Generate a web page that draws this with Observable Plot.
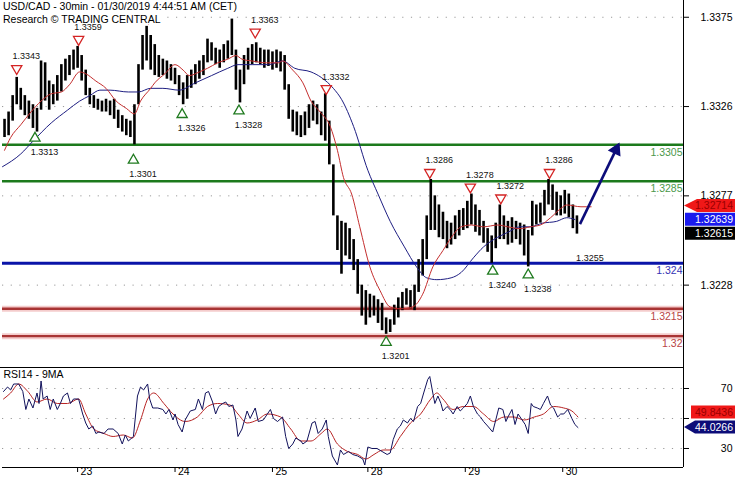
<!DOCTYPE html>
<html><head><meta charset="utf-8">
<script src="https://cdn.jsdelivr.net/npm/d3@7"></script>
<script src="https://cdn.jsdelivr.net/npm/@observablehq/plot@0.6"></script>
<style>
body{margin:0;background:#fff;}
#wrap{position:relative;width:735px;height:480px;overflow:hidden;font-family:"Liberation Sans",Arial,sans-serif;}
#wrap svg{display:block;max-width:none !important;}
#rsi{padding-top:1px;}
#sep{position:absolute;left:0;top:367px;width:684px;height:1px;background:#000;}
#title{position:absolute;left:2px;top:0px;font-size:10.5px;line-height:13px;color:#000;}
#title span{background:#fff;display:inline-block;padding:0 1px;line-height:10px;}
</style></head><body>
<div id="wrap">
  <div id="main"></div>
  <div id="rsi"></div>
  <div id="sep"></div>
  <div id="title"><span>USD/CAD - 30min - 01/30/2019 4:44:51 AM (CET)</span><br><span>Research © TRADING CENTRAL</span></div>
</div>
<script>
// ---------- hourly bars (high / low) ----------
const hi = [
1.3319,1.3323,1.3332,1.3342,1.3336,1.3332,1.3329,1.3327,1.3325,1.3351,
1.3350,1.3340,1.3338,1.3343,1.3349,1.3352,1.3354,1.3357,1.3359,1.3354,
1.3346,1.3336,1.3332,1.3330,1.3329,1.3330,1.3329,1.3330,1.3324,1.3321,
1.3319,1.3318,1.3327,1.3349,1.3365,1.3370,1.3365,1.3360,1.3354,1.3352,
1.3351,1.3349,1.3347,1.3343,1.3339,1.3343,1.3346,1.3349,1.3351,1.3354,
1.3363,1.3361,1.3358,1.3357,1.3360,1.3362,1.3374,1.3357,1.3346,1.3354,
1.3358,1.3360,1.3361,1.3358,1.3357,1.3357,1.3356,1.3357,1.3356,1.3354,
1.3338,1.3324,1.3323,1.3321,1.3323,1.3327,1.3329,1.3327,1.3323,1.3333,
1.3318,1.3294,1.3266,1.3263,1.3262,1.3259,1.3253,1.3242,1.3228,1.3225,
1.3223,1.3222,1.3220,1.3218,1.3210,1.3209,1.3217,1.3221,1.3224,1.3226,
1.3225,1.3228,1.3242,1.3253,1.3266,1.3286,1.3277,1.3272,1.3268,1.3263,
1.3262,1.3266,1.3269,1.3270,1.3274,1.3278,1.3272,1.3269,1.3263,1.3259,
1.3255,1.3262,1.3272,1.3266,1.3263,1.3265,1.3263,1.3262,1.3261,1.3258,
1.3274,1.3272,1.3273,1.3280,1.3286,1.3283,1.3279,1.3277,1.3280,1.3278,
1.3272,1.3266];
const lo = [
1.3309,1.3310,1.3318,1.3327,1.3324,1.3321,1.3319,1.3314,1.3312,1.3324,
1.3329,1.3324,1.3327,1.3329,1.3334,1.3340,1.3343,1.3346,1.3347,1.3340,
1.3332,1.3327,1.3325,1.3324,1.3323,1.3323,1.3321,1.3319,1.3314,1.3312,
1.3310,1.3309,1.3305,1.3327,1.3346,1.3351,1.3346,1.3343,1.3342,1.3343,
1.3341,1.3340,1.3338,1.3332,1.3327,1.3330,1.3336,1.3338,1.3341,1.3343,
1.3350,1.3351,1.3349,1.3347,1.3350,1.3352,1.3354,1.3335,1.3328,1.3338,
1.3346,1.3349,1.3350,1.3349,1.3347,1.3348,1.3346,1.3347,1.3345,1.3335,
1.3319,1.3312,1.3310,1.3309,1.3310,1.3314,1.3318,1.3316,1.3310,1.3307,
1.3294,1.3266,1.3247,1.3234,1.3244,1.3242,1.3236,1.3223,1.3211,1.3206,
1.3210,1.3211,1.3207,1.3203,1.3201,1.3202,1.3206,1.3210,1.3214,1.3217,
1.3215,1.3214,1.3224,1.3233,1.3242,1.3258,1.3258,1.3254,1.3253,1.3248,
1.3250,1.3253,1.3255,1.3258,1.3259,1.3261,1.3257,1.3255,1.3251,1.3246,
1.3240,1.3248,1.3253,1.3253,1.3250,1.3251,1.3253,1.3250,1.3244,1.3238,
1.3255,1.3261,1.3262,1.3266,1.3272,1.3269,1.3266,1.3266,1.3267,1.3265,
1.3259,1.3256];

// ---------- moving averages on price (bar index, value) ----------
const redMAIdx = [1,4,9,14,19,24,29,33,38,41,46,51,56,61,65,68,73,75,80,85,89,92,97,101,106,111,115,118,123,130,136,138,143,148,152,156.5,161.5,165,168,172,176,181,186,191,196,202,207,212,217,221,226,231,237,244,249,255,260,265,270,275,278,285,290];
const redMAVal = [1.3302,1.3309,1.3316,1.3323,1.3329,1.3333,1.3334,1.3338,1.3345,1.3344,1.3340,1.3336,1.3329,1.3325,1.3322,1.3329,1.3336,1.3339,1.3344,1.3349,1.3346,1.3343,1.3345,1.3347,1.3350,1.3352,1.3354,1.3352,1.3351,1.3350,1.3350,1.3351,1.3346,1.3339,1.3329,1.3323,1.3315,1.3302,1.3287,1.3278,1.3260,1.3238,1.3225,1.3216,1.3215,1.3216,1.3223,1.3238,1.3247,1.3254,1.3260,1.3261,1.3260,1.3261,1.3260,1.3259,1.3260,1.3261,1.3265,1.3270,1.3272,1.3271,1.3271];
const blueMAIdx = [0,9,15,24,32,38,43,48,53,62,67,73,79,87,95,103,111,116,123,131,138,144,152,157,163,167,173,180,185,191,198,204,209,214,221,226,232,237,242,249,255,260,266,273,278,282];
const blueMAVal = [1.3293,1.3300,1.3307,1.3317,1.3324,1.3329,1.3332,1.3335,1.3335,1.3334,1.3334,1.3336,1.3336,1.3335,1.3339,1.3343,1.3347,1.3349,1.3349,1.3349,1.3351,1.3347,1.3345,1.3342,1.3336,1.3330,1.3315,1.3291,1.3278,1.3263,1.3249,1.3238,1.3232,1.3231,1.3232,1.3235,1.3243,1.3249,1.3253,1.3257,1.3260,1.3260,1.3262,1.3263,1.3265,1.3264];

// ---------- swing highs / lows ----------
const peakIdx = [7,37.5,72,124.5,159.5,210.5,230.5,245.5,269.5];
const peakVal = [1.3343,1.3359,1.3371,1.3363,1.3332,1.3286,1.3278,1.3272,1.3286];
const troughIdx = [16,64.5,88.5,116.5,189,241.5,259];
const troughVal = [1.3313,1.3301,1.3326,1.3328,1.3201,1.3240,1.3238];
const pendingIdx = [284.7];
const pendingVal = [1.3255];

// ---------- levels ----------
const levelVal = [1.3305,1.3285,1.324,1.3215,1.32];
const levelLabel = ["1.3305","1.3285","1.324","1.3215","1.32"];
const levelKind = ["res","res","pivot","sup","sup"];

// ---------- axes ----------
const priceTicks = [1.3375,1.3326,1.3277,1.3228];
const dayIdx = [37,85,133,180,228,276];
const dayLabels = ["23","24","25","28","29","30"];

// ---------- arrow (projection) ----------
const arrowFrom = {i: 284.5, v: 1.32615};
const arrowTo = {i: 303.4, v: 1.3305};

// ---------- last values ----------
const lastRedMA = 1.32714, lastBlueMA = 1.32639, lastClose = 1.32615;

// ---------- RSI14 and its 9MA ----------
const rsiIdx = [0.5,2.5,4,5.5,8,10,11.5,13,15,17,
18,19,20,22,23.5,25,27,28.5,30,32,
33.5,35,37.5,39.5,41,42.5,44.5,46,47.5,50,
52,54.5,57,59,60.5,62,64.5,66.5,68,69.5,
71.5,72.5,74,76.5,79,80.5,82,84,85,86.5,
88.5,90,92.5,95,96.5,98.5,100,101.5,103.5,105,
106.5,108.5,110,111.5,113.5,115,116,118,120.5,122,
124.5,126,128.5,130.5,132,133.5,135.5,138,139.5,141,
143,144.5,147,148,150,152.5,154,155.5,157.5,159.5,
160.5,162.5,165,166.5,168,170.5,172.5,175,177.5,178.5,
180,182,184.5,187,189.5,191,192.5,194.5,196,197.5,
199.5,201,202.5,204.5,206,207.5,209.5,210.5,212,213,
214.5,216,217,219,220.5,222,224,225.5,227,229,
230.5,232,234,235.5,237,239,241.5,243,244.5,246.5,
248,249,251,252.5,254,256,257.5,259,260.5,261.5,
263.5,265,266.5,268.5,270,271.5,273.5,275,276.5,278.5,
280.5,282,283.5];
const rsiVal = [68,71,69,73,73,68,56,63,57,67,
60,75,63,65,56,63,56,60,65,67,
60,63,63,53,47,43,45,40,41,40,
43,43,40,33,39,35,38,65,71,69,
73,63,57,57,56,53,56,49,53,46,
41,49,55,56,63,56,67,68,61,53,
58,60,61,58,59,49,38,43,55,50,
57,48,49,53,56,50,48,51,38,30,
33,37,35,33,35,47,48,40,43,49,
38,25,19,29,26,28,26,25,23,19,
31,30,30,28,26,27,36,43,45,49,
47,50,48,58,60,67,76,78,67,60,
65,60,55,58,56,53,58,55,57,60,
65,58,53,51,48,45,41,49,57,56,
48,51,56,46,53,49,46,40,60,58,
57,56,60,65,59,57,51,53,53,56,
50,46,44];
const rsiMAIdx = [0.5,4,8,12.5,17,22,27,32,37.5,41,45,50,54.5,59.5,64,68,71.5,74.5,79.5,84,90,96,101,106,112,116,120.5,125.5,130.5,137,142,147,152,157,160,165,170,175,179,183,187.5,191,196,201,206,211,214,217,222,227,232,237,242,247,252,257,262,266.5,271.5,276.5,280.5,283.5];
const rsiMAVal = [63,67,73,68,61,63,60,60,63,53,43,40,38,39,37,49,63,67,60,53,48,51,58,60,59,53,47,49,53,51,43,35,35,40,43,33,28,26,23,26,29,29,38,47,53,63,67,63,56,58,58,53,48,51,51,49,51,53,58,57,55,51];
const rsiTicks = [70,50,30];
const rsiTickLabels = ["70","","30"];
const rsiLast = 44.0266, rsiMALast = 49.8436;

// ---------- build tables ----------
const bars = hi.map((h, k) => ({i: 2 * k + 1, hi: h, lo: lo[k]}));
const redMA = redMAIdx.map((i, k) => ({i, v: redMAVal[k]}));
const blueMA = blueMAIdx.map((i, k) => ({i, v: blueMAVal[k]}));
const peaks = peakIdx.map((i, k) => ({i, v: peakVal[k]}));
const troughs = troughIdx.map((i, k) => ({i, v: troughVal[k]}));
const pending = pendingIdx.map((i, k) => ({i, v: pendingVal[k]}));
const levels = levelVal.map((v, k) => ({v, label: levelLabel[k], kind: levelKind[k]}));
const rsi = rsiIdx.map((i, k) => ({i, v: rsiVal[k]}));
const rsiMA = rsiMAIdx.map((i, k) => ({i, v: rsiMAVal[k]}));

const lineColor = {res: "#1c7a1c", pivot: "#0a14a8", sup: "#a83434"};
const textColor = {res: "#4a984a", pivot: "#3434b4", sup: "#b84444"};
const X_DOMAIN = [0, 335.5];
const FONT = '"Liberation Sans", Arial, sans-serif';

const main = Plot.plot({
  width: 735, height: 367,
  marginLeft: 2, marginRight: 52, marginTop: 0, marginBottom: 0,
  style: {fontFamily: FONT, fontSize: "10.5px", background: "white", overflow: "visible"},
  x: {domain: X_DOMAIN, axis: null},
  y: {domain: [1.31828, 1.33842]},
  marks: [
    Plot.ruleY(priceTicks, {stroke: "#9a9a9a", strokeDasharray: "1.2,7.5", strokeWidth: 1}),
    Plot.ruleY(levels.filter(d => d.kind === "sup"), {y: "v", stroke: "#f4cccc", strokeWidth: 6}),
    Plot.ruleY(levels.filter(d => d.kind === "res"), {y: "v", stroke: lineColor.res, strokeWidth: 2.6}),
    Plot.ruleY(levels.filter(d => d.kind === "pivot"), {y: "v", stroke: lineColor.pivot, strokeWidth: 2.8}),
    Plot.ruleY(levels.filter(d => d.kind === "sup"), {y: "v", stroke: lineColor.sup, strokeWidth: 2.4}),
    Plot.ruleX(bars, {x: "i", y1: "lo", y2: "hi", stroke: "#000", strokeWidth: 2.6}),
    Plot.line(blueMA, {x: "i", y: "v", stroke: "#1e1e82", strokeWidth: 1, curve: "monotone-x"}),
    Plot.line(redMA, {x: "i", y: "v", stroke: "#c42e2e", strokeWidth: 1, curve: "monotone-x"}),
    ...["res", "pivot", "sup"].map(kind => Plot.text(levels.filter(d => d.kind === kind), {
      y: "v", text: "label", frameAnchor: "right", textAnchor: "end", dx: -1, dy: 7.5,
      fill: textColor[kind], fontSize: 10.5})),
    Plot.dot(peaks, {x: "i", y: "v", symbol: "triangle", rotate: 180, r: 3.8, dy: -7,
      stroke: "#d42424", fill: "white", strokeWidth: 1.3}),
    Plot.text(peaks, {x: "i", y: "v", text: d => d.v.toFixed(4), dy: -19, dx: 9.5,
      fontSize: 9, fill: "#111"}),
    Plot.dot(troughs, {x: "i", y: "v", symbol: "triangle", r: 3.8, dy: 8,
      stroke: "#1f7a1f", fill: "white", strokeWidth: 1.3}),
    Plot.text(troughs.concat(pending), {x: "i", y: "v", text: d => d.v.toFixed(4), dy: 22, dx: 9.5,
      fontSize: 9, fill: "#111"}),
    Plot.link([{a: arrowFrom, b: arrowTo}], {x1: d => d.a.i, y1: d => d.a.v, x2: d => d.b.i, y2: d => d.b.v,
      stroke: "#0c0c7a", strokeWidth: 2.6}),
    Plot.dot([arrowTo], {x: "i", y: "v", symbol: "triangle", rotate: 26, r: 4.3, dx: -2.4, dy: 5,
      fill: "#0c0c7a", stroke: "#0c0c7a"}),
    Plot.ruleX([X_DOMAIN[1]], {stroke: "#000", strokeWidth: 1}),
    Plot.axisY({anchor: "right", ticks: priceTicks, tickSize: 5, tickPadding: 44, textAnchor: "end",
      tickFormat: d => d.toFixed(4), label: null, fontSize: 10.5})
  ]
});

const rsiPlot = Plot.plot({
  width: 735, height: 112,
  marginLeft: 2, marginRight: 52, marginTop: 0, marginBottom: 13,
  style: {fontFamily: FONT, fontSize: "10.5px", background: "white", overflow: "visible"},
  x: {domain: X_DOMAIN},
  y: {domain: [17.33, 83.33]},
  marks: [
    Plot.ruleY(rsiTicks, {stroke: "#9a9a9a", strokeDasharray: "1.2,7.5", strokeWidth: 1}),
    Plot.line(rsiMA, {x: "i", y: "v", stroke: "#b82424", strokeWidth: 1, curve: "monotone-x"}),
    Plot.line(rsi, {x: "i", y: "v", stroke: "#12125c", strokeWidth: 1}),
    Plot.text(["RSI14 - 9MA"], {frameAnchor: "top-left", textAnchor: "start", lineAnchor: "top", dx: 1, dy: 2, fontSize: 10.5, fill: "#000"}),
    Plot.ruleX([X_DOMAIN[1]], {stroke: "#000", strokeWidth: 1}),
    Plot.ruleY([17.33], {stroke: "#000", strokeWidth: 1}),
    Plot.axisX({anchor: "bottom", ticks: dayIdx, tickSize: 5, tickFormat: () => "", label: null}),
    Plot.text(dayIdx, {x: d => d, text: (d, k) => dayLabels[k], frameAnchor: "bottom", textAnchor: "start", dx: 3, dy: 7, fontSize: 10.5, fill: "#000"}),
    Plot.axisY({anchor: "right", ticks: rsiTicks, tickSize: 5, tickPadding: 44, textAnchor: "end",
      tickFormat: d => rsiTickLabels[rsiTicks.indexOf(d)], label: null, fontSize: 10.5})
  ]
});

document.getElementById("main").appendChild(main);
document.getElementById("rsi").appendChild(rsiPlot);

// value tags on the right axis, placed with the plots' own y scales
function tag(svg, xAxis, y, text, bg, fg, boxLeft, arrow) {
  const g = d3.select(svg).append("g");
  const h = 6.5, right = 735;
  const p = arrow
    ? `M${xAxis + 1},${y} L${boxLeft},${y - h} L${right},${y - h} L${right},${y + h} L${boxLeft},${y + h} Z`
    : `M${boxLeft},${y - h} L${right},${y - h} L${right},${y + h} L${boxLeft},${y + h} Z`;
  g.append("path").attr("d", p).attr("fill", bg);
  g.append("text").attr("x", right - 2).attr("y", y).attr("dy", "0.36em")
    .attr("text-anchor", "end").attr("fill", fg).attr("font-size", "10.5px")
    .attr("font-family", FONT).text(text);
}
const ysM = main.scale("y"), xsM = main.scale("x");
const xAxisPx = xsM.apply(X_DOMAIN[1]);
const yRed = ysM.apply(lastRedMA);
const yBlue = ysM.apply(lastBlueMA);
const yBlack = Math.max(ysM.apply(lastClose), yBlue + 14);
tag(main, xAxisPx, yRed, lastRedMA.toFixed(5), "#f01818", "#9a0000", xAxisPx + 14, true);
tag(main, xAxisPx, yBlue, lastBlueMA.toFixed(5), "#1a1aee", "#fff", xAxisPx + 2, false);
tag(main, xAxisPx, yBlack, lastClose.toFixed(5), "#000", "#fff", xAxisPx + 2, false);

const ysR = rsiPlot.scale("y");
const yRsi = ysR.apply(rsiLast);
const yRsiMA = Math.min(ysR.apply(rsiMALast), yRsi - 15);
tag(rsiPlot, xAxisPx, yRsiMA, rsiMALast.toFixed(4), "#f01818", "#9a0000", xAxisPx + 8, false);
tag(rsiPlot, xAxisPx, yRsi, rsiLast.toFixed(4), "#0c0c78", "#fff", xAxisPx + 12, true);
</script>
</body></html>
